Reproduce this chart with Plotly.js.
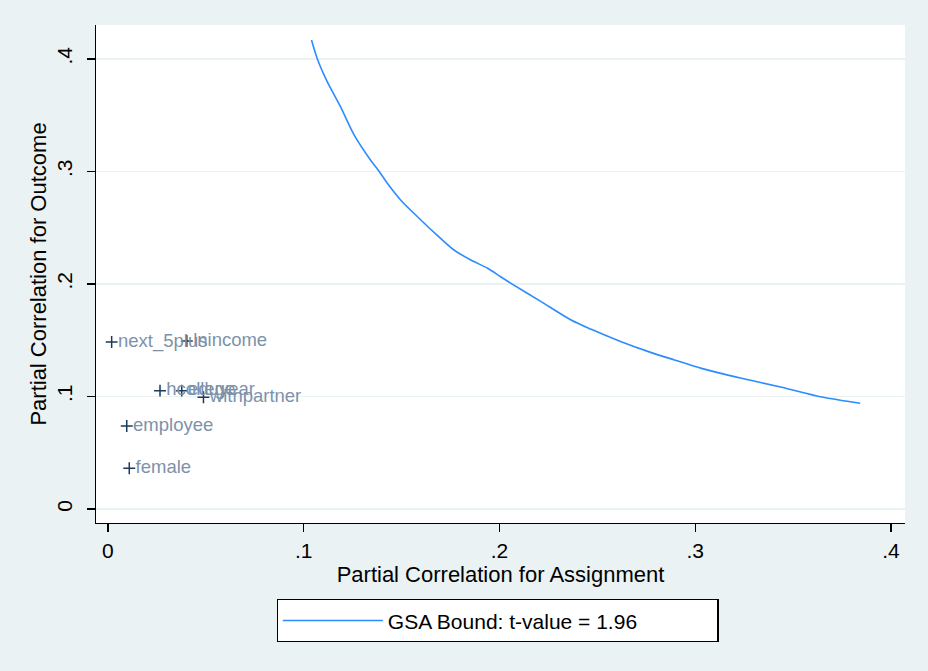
<!DOCTYPE html>
<html>
<head>
<meta charset="utf-8">
<script src="https://cdn.plot.ly/plotly-3.0.1.min.js"></script>
<style>html,body{margin:0;padding:0;background:#eaf2f3;}#chart{width:928px;height:671px;}</style>
</head>
<body>
<div id="chart"></div>
<script>
// GSA bound curve (partial correlation for assignment vs outcome)
var boundX = [0.1040,0.1070,0.1117,0.1188,0.1256,0.1342,0.1383,0.1436,0.1495,0.1580,0.1680,0.1768,0.1854,0.1940,0.2008,0.2059,0.2213,0.2366,0.2469,0.2622,0.2776,0.2894,0.3032,0.3237,0.3442,0.3647,0.3843];
var boundY = [0.4169,0.4000,0.3810,0.3576,0.3330,0.3100,0.3007,0.2875,0.2747,0.2600,0.2436,0.2302,0.2213,0.2140,0.2062,0.2006,0.1843,0.1680,0.1597,0.1487,0.1390,0.1325,0.1250,0.1162,0.1082,0.0995,0.0940];

// covariates
var covNames = ["next_5plus","lnincome","hcollege","eduyear","withpartner","employee","female"];
var covX = [0.0019,0.0403,0.0266,0.0377,0.0488,0.0096,0.0109];
var covY = [0.1484,0.1493,0.1052,0.1052,0.0993,0.0738,0.0362];

var xTickVals = [0,0.1,0.2,0.3,0.4];
var xTickText = ["0",".1",".2",".3",".4"];
var yTickVals = [0,0.1,0.2,0.3,0.4];
var yTickText = ["0",".1",".2",".3",".4"];

var FONT = "Liberation Sans, Arial, sans-serif";

var traces = [
  {
    x: covX, y: covY, text: covNames,
    type: "scatter", mode: "markers+text",
    textposition: "middle right",
    textfont: {family: FONT, size: 18.5, color: "#7d92aa"},
    marker: {symbol: "cross-thin", size: 8.5, line: {width: 1.5, color: "#1a3a5c"}, color: "#1a3a5c"},
    showlegend: false, hoverinfo: "skip", cliponaxis: false
  },
  {
    x: boundX, y: boundY,
    type: "scatter", mode: "lines",
    name: "GSA Bound: t-value = 1.96",
    line: {color: "#2b8cff", width: 1.6, shape: "spline", smoothing: 0.8},
    showlegend: true
  }
];

var layout = {
  width: 928, height: 671,
  margin: {l: 96, r: 23, t: 25, b: 148, pad: 0},
  paper_bgcolor: "#eaf2f3",
  plot_bgcolor: "#ffffff",
  font: {family: FONT, color: "#000"},
  showlegend: true,
  xaxis: {
    range: [-0.0061, 0.4072],
    tickvals: xTickVals, ticktext: xTickText,
    showline: true, linecolor: "#000", linewidth: 1.3,
    ticks: "outside", ticklen: 8, tickwidth: 1.3, tickcolor: "#000",
    showgrid: false, zeroline: false,
    tickfont: {family: FONT, size: 21, color: "#000"},
    title: {text: "Partial Correlation for Assignment", font: {family: FONT, size: 22, color: "#000"}, standoff: 0}
  },
  yaxis: {
    range: [-0.01244, 0.4302],
    tickvals: yTickVals, ticktext: yTickText,
    tickangle: -90, ticklabelstandoff: 6,
    showline: true, linecolor: "#000", linewidth: 1.3,
    ticks: "outside", ticklen: 8, tickwidth: 1.3, tickcolor: "#000",
    showgrid: true, gridcolor: "#eaf2f3", gridwidth: 1.3, zeroline: false,
    tickfont: {family: FONT, size: 21, color: "#000"},
    title: {text: "Partial Correlation for Outcome", font: {family: FONT, size: 22, color: "#000"}, standoff: 0}
  },
  legend: {
    orientation: "h",
    x: 0.4963, xanchor: "center",
    y: -0.1526, yanchor: "top",
    bgcolor: "#ffffff", bordercolor: "#000", borderwidth: 1.3,
    font: {family: FONT, size: 21, color: "#000"},
    itemwidth: 100, entrywidth: 324
  }
};

Plotly.newPlot("chart", traces, layout, {displayModeBar: false, staticPlot: true});
</script>
</body>
</html>
